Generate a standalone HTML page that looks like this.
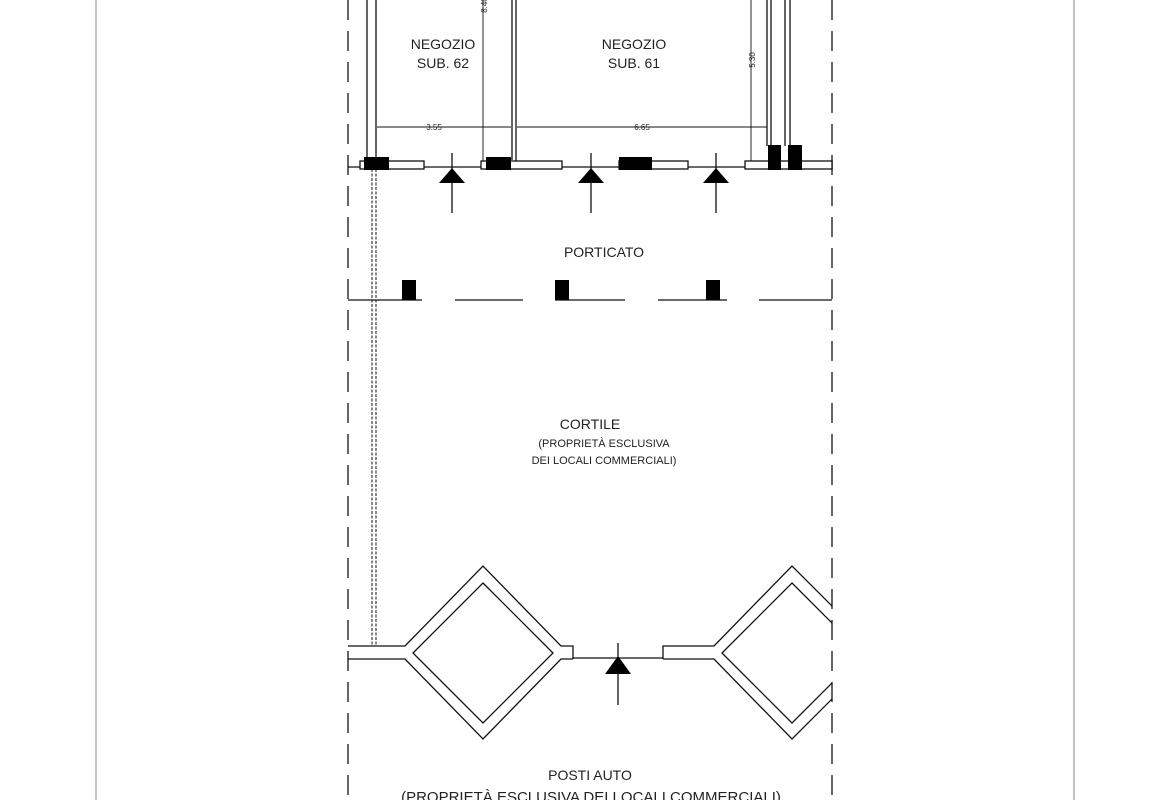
<!DOCTYPE html>
<html><head><meta charset="utf-8"><style>html,body{margin:0;padding:0;background:#fff}svg{display:block}text{font-family:"Liberation Sans",sans-serif;fill:#222}</style></head><body>
<svg width="1170" height="800" viewBox="0 0 1170 800" xmlns="http://www.w3.org/2000/svg">
<defs><clipPath id="c"><rect x="0" y="0" width="832" height="800"/></clipPath></defs>
<line x1="96" y1="0" x2="96" y2="800" stroke="#999" stroke-width="1.2"/>
<line x1="1074" y1="0" x2="1074" y2="800" stroke="#999" stroke-width="1.2"/>
<g stroke="#333" stroke-width="1.5" stroke-dasharray="20,11">
<line x1="348" y1="0" x2="348" y2="800"/><line x1="832" y1="0" x2="832" y2="800"/>
</g>
<g stroke="#111" stroke-width="1.3" fill="none">
<line x1="367" y1="0" x2="367" y2="160"/><line x1="376" y1="0" x2="376" y2="160"/>
<line x1="512" y1="0" x2="512" y2="160"/><line x1="516" y1="0" x2="516" y2="162"/>
<line x1="767" y1="0" x2="767" y2="146"/><line x1="771" y1="0" x2="771" y2="146"/>
<line x1="785" y1="0" x2="785" y2="146"/><line x1="790" y1="0" x2="790" y2="146"/>
<line x1="483" y1="0" x2="483" y2="165" stroke-width="0.9"/>
<line x1="751" y1="0" x2="751" y2="162" stroke-width="0.9"/>
<line x1="377" y1="127" x2="511" y2="127" stroke-width="0.9"/>
<line x1="517" y1="127" x2="767" y2="127" stroke-width="0.9"/>
<line x1="348" y1="167" x2="832" y2="167"/>
<rect x="360" y="161" width="64" height="8" fill="#fff"/>
<rect x="481" y="161" width="81" height="8" fill="#fff"/>
<rect x="619" y="161" width="69" height="8" fill="#fff"/>
<rect x="745" y="161" width="87" height="8" fill="#fff"/>
<line x1="348" y1="300" x2="422" y2="300"/><line x1="455" y1="300" x2="523" y2="300"/>
<line x1="555" y1="300" x2="625" y2="300"/><line x1="658" y1="300" x2="727" y2="300"/>
<line x1="759" y1="300" x2="832" y2="300"/>
<line x1="372" y1="169" x2="372" y2="646" stroke-dasharray="3,1.5" stroke-width="1"/>
<line x1="376" y1="169" x2="376" y2="646" stroke-dasharray="3,1.5" stroke-width="1"/>
<polyline points="348,646 405,646 483,566 561,646 573,646 573,659"/>
<polyline points="348,659 405,659 483,739 561,659 573,659"/>
<polygon points="483,583 553,653 483,723 413,653"/>
<line x1="573" y1="658" x2="663" y2="658"/>
<g clip-path="url(#c)">
<polyline points="663,659 663,646 714,646 792,566 872,646"/>
<polyline points="663,659 714,659 792,739 872,659"/>
<polygon points="792,583 862,653 792,723 722,653"/>
</g>
<line x1="452" y1="153" x2="452" y2="213"/><line x1="591" y1="153" x2="591" y2="213"/><line x1="716" y1="153" x2="716" y2="213"/>
<line x1="618" y1="643" x2="618" y2="705"/>
</g>
<g fill="#000">
<rect x="364" y="157" width="25" height="13"/><rect x="486" y="157" width="25" height="13"/>
<rect x="619" y="157" width="33" height="13"/>
<rect x="768" y="145" width="13" height="25"/><rect x="788" y="145" width="14" height="25"/>
<rect x="402" y="280" width="14" height="20"/><rect x="555" y="280" width="14" height="20"/><rect x="706" y="280" width="14" height="20"/>
<polygon points="452,168 439,183 465,183"/><polygon points="591,168 578,183 604,183"/><polygon points="716,168 703,183 729,183"/>
<polygon points="618,656 605,674 631,674"/>
</g>
<g text-anchor="middle">
<text x="443" y="49" font-size="14">NEGOZIO</text><text x="443" y="68" font-size="14">SUB. 62</text>
<text x="634" y="49" font-size="14">NEGOZIO</text><text x="634" y="68" font-size="14">SUB. 61</text>
<text x="434" y="130" font-size="8">3.55</text><text x="642" y="130" font-size="8">6.65</text>
<text x="604" y="257" font-size="14">PORTICATO</text>
<text x="590" y="429" font-size="14">CORTILE</text>
<text x="604" y="447" font-size="11">(PROPRIETÀ ESCLUSIVA</text>
<text x="604" y="464" font-size="11">DEI LOCALI COMMERCIALI)</text>
<text x="590" y="780" font-size="14">POSTI AUTO</text>
<text x="591" y="802" font-size="15">(PROPRIETÀ ESCLUSIVA DEI LOCALI COMMERCIALI)</text>
<text transform="translate(487,5) rotate(-90)" font-size="8">8.40</text>
<text transform="translate(755,60) rotate(-90)" font-size="8">5.30</text>
</g>
</svg>
</body></html>
